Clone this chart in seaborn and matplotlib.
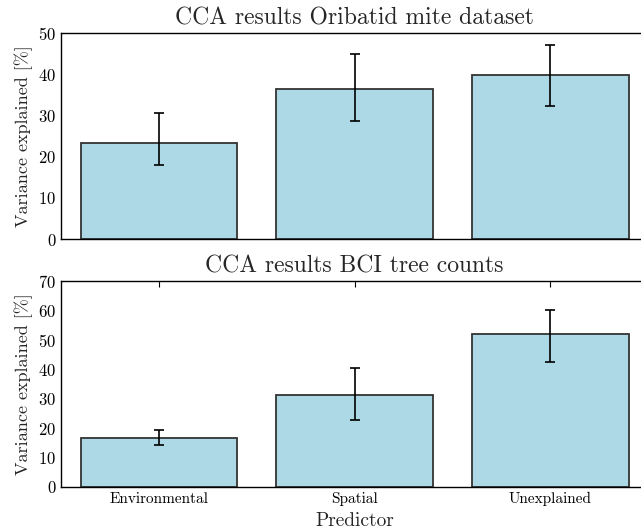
import numpy as np
import pandas as pd
import matplotlib
matplotlib.use("Agg")
import matplotlib.pyplot as plt
import seaborn as sns

# Werte
predictors = ["Environmental", "Spatial", "Unexplained"]

mite_mean = [23.2, 36.3, 39.7]
mite_low = [17.9, 28.6, 32.3]
mite_high = [30.7, 44.9, 47.2]

bci_mean = [16.6, 31.1, 51.9]
bci_low = [14.4, 22.7, 42.3]
bci_high = [19.5, 40.4, 60.3]

sns.set_style("white")
plt.rcParams.update({
    "font.family": "serif",
    "font.serif": ["cmr10", "DejaVu Serif"],
    "mathtext.fontset": "cm",
    "axes.formatter.use_mathtext": True,
    "axes.edgecolor": "black",
    "axes.linewidth": 1.0,
    "xtick.direction": "in",
    "ytick.direction": "in",
    "xtick.top": True,
    "ytick.right": False,
    "xtick.major.size": 4,
    "ytick.major.size": 4,
    "xtick.color": "black",
    "ytick.color": "black",
})


def plot_panel(ax, mean, low, high, title, ymax):

    df = pd.DataFrame({"Predictor": predictors, "Variance": mean})

    sns.barplot(
        data=df,
        x="Predictor",
        y="Variance",
        color="lightblue",
        saturation=1,
        edgecolor="#333333",
        linewidth=1.3,
        errorbar=None,
        ax=ax
    )

    yerr = [np.array(mean) - np.array(low), np.array(high) - np.array(mean)]
    ax.errorbar(
        range(len(predictors)),
        mean,
        yerr=yerr,
        fmt="none",
        ecolor="black",
        elinewidth=1.2,
        capsize=3.5,
        capthick=1.2
    )

    ax.set_xlim(-0.5, 2.5)
    ax.set_ylim(0, ymax)
    ax.set_yticks(range(0, ymax + 1, 10))
    ax.set_title(title, fontsize=17)
    ax.set_ylabel("Variance explained [%]", fontsize=13)
    ax.tick_params(axis="y", labelsize=12)
    for s in ax.spines.values():
        s.set_visible(True)
    # rechte Achse liegt ausserhalb des Bildes
    ax.spines["right"].set_visible(False)


fig = plt.figure(figsize=(6.41, 5.31), dpi=100)
ax1 = fig.add_axes([0.0952, 0.5499, 0.916, 0.388])
ax2 = fig.add_axes([0.0952, 0.0829, 0.916, 0.388])

plot_panel(ax1, mite_mean, mite_low, mite_high, "CCA results Oribatid mite dataset", 50)
ax1.set_xticks([])
ax1.set_xlabel("")

plot_panel(ax2, bci_mean, bci_low, bci_high, "CCA results BCI tree counts", 70)
ax2.set_xlabel("Predictor", fontsize=14)
ax2.tick_params(axis="x", labelsize=11)

fig.savefig("out.png", dpi=100)
